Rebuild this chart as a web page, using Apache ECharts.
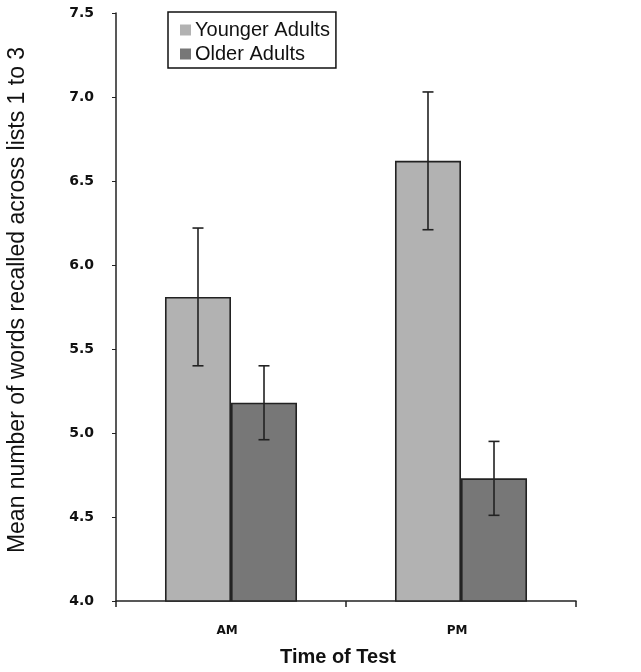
<!DOCTYPE html>
<html><head><meta charset="utf-8">
<script src="https://cdn.jsdelivr.net/npm/echarts@6/dist/echarts.min.js"></script>
<style>html,body{margin:0;padding:0;background:#fff}#c{width:641px;height:672px}</style>
</head><body><div id="c"></div>
<script>
const categories = ['AM', 'PM'];
const seriesNames = ['Younger Adults', 'Older Adults'];
const youngerMeans = [5.81, 6.62];
const olderMeans = [5.18, 4.73];
const youngerErr = [0.41, 0.41];
const olderErr = [0.22, 0.22];
const yTicks = [4.0, 4.5, 5.0, 5.5, 6.0, 6.5, 7.0, 7.5];

const chart = echarts.init(document.getElementById('c'));
const barColors = ['#b2b2b2', '#777777'];
const means = [youngerMeans, olderMeans];
const errs = [youngerErr, olderErr];

function errSeries(si) {
  return {
    type: 'custom',
    name: seriesNames[si] + ' err',
    z: 10,
    data: categories.map((c, i) => [i, means[si][i] - errs[si][i], means[si][i] + errs[si][i]]),
    renderItem: function (params, api) {
      const idx = api.value(0);
      const lo = api.coord([idx, api.value(1)]);
      const hi = api.coord([idx, api.value(2)]);
      const band = api.size([1, 0])[0];
      const barW = band * (1 - 0.426) / 2;
      const x = lo[0] + (si === 0 ? -barW / 2 : barW / 2);
      const cap = 5.5;
      const st = { stroke: '#222', lineWidth: 1.6 };
      return {
        type: 'group',
        children: [
          { type: 'line', shape: { x1: x, y1: lo[1], x2: x, y2: hi[1] }, style: st },
          { type: 'line', shape: { x1: x - cap, y1: lo[1], x2: x + cap, y2: lo[1] }, style: st },
          { type: 'line', shape: { x1: x - cap, y1: hi[1], x2: x + cap, y2: hi[1] }, style: st }
        ]
      };
    }
  };
}

chart.setOption({
  animation: false,
  backgroundColor: '#fff',
  grid: { left: 116, right: 65, top: 13, bottom: 71, outerBoundsMode: 'none', containLabel: false },
  legend: {
    data: seriesNames.map((n, i) => ({ name: n, icon: 'rect', itemStyle: { color: barColors[i], borderWidth: 0 } })),
    orient: 'vertical',
    left: 168, top: 12,
    padding: [8, 6, 4, 12],
    itemWidth: 11, itemHeight: 11, itemGap: 4,
    borderColor: '#111', borderWidth: 1.5,
    backgroundColor: '#fff',
    textStyle: { fontFamily: 'Liberation Sans', fontSize: 20, color: '#111', padding: [0, 0, 0, -1] }
  },
  xAxis: {
    type: 'category',
    data: categories,
    name: 'Time of Test',
    nameLocation: 'middle',
    nameGap: 46,
    nameTextStyle: { fontFamily: 'Liberation Sans', fontWeight: 'bold', fontSize: 20, color: '#111', padding: [0, 16, 0, 0] },
    axisLine: { lineStyle: { color: '#222', width: 1.5 } },
    axisTick: { show: true, length: 6, lineStyle: { color: '#222', width: 1.5 } },
    axisLabel: { fontFamily: 'DejaVu Sans', fontWeight: 'bold', fontSize: 12, color: '#111', margin: 24, padding: [0, 8, 0, 0] }
  },
  yAxis: {
    type: 'value',
    min: 4.0, max: 7.5, interval: 0.5,
    name: 'Mean number of words recalled across lists 1 to 3',
    nameLocation: 'middle',
    nameGap: 87,
    nameRotate: 90,
    nameTextStyle: { fontFamily: 'Liberation Sans', fontSize: 23, color: '#111', padding: [0, 0, 0, 14] },
    splitLine: { show: false },
    axisLine: { show: true, lineStyle: { color: '#222', width: 1.5 } },
    axisTick: { show: true, length: 4, lineStyle: { color: '#222', width: 1 } },
    axisLabel: {
      fontFamily: 'DejaVu Sans', fontWeight: 'bold', fontSize: 14, color: '#111', margin: 22,
      formatter: v => yTicks.includes(v) ? v.toFixed(1) : ''
    }
  },
  series: [
    {
      name: seriesNames[0], type: 'bar', data: youngerMeans, barGap: '0%', barCategoryGap: '42.6%',
      itemStyle: { color: barColors[0], borderColor: '#222', borderWidth: 1.6 }
    },
    {
      name: seriesNames[1], type: 'bar', data: olderMeans,
      itemStyle: { color: barColors[1], borderColor: '#222', borderWidth: 1.6 }
    },
    errSeries(0),
    errSeries(1)
  ]
});
</script></body></html>
